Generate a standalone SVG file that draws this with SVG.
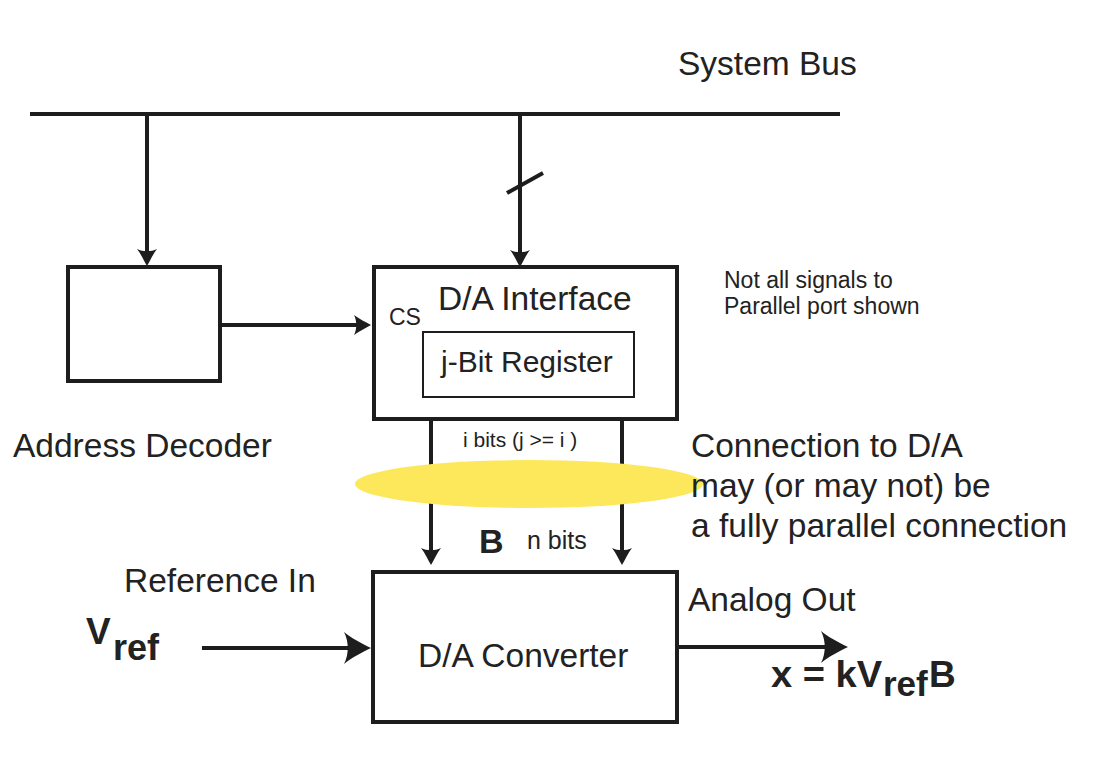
<svg xmlns="http://www.w3.org/2000/svg" width="1114" height="762" viewBox="0 0 1114 762">
<defs>
<style>
text{font-family:"Liberation Sans",Arial,Helvetica,sans-serif;fill:#222;}
.t33{font-size:33.5px;}
.b{font-weight:bold;}
.box{fill:none;stroke:#1d1d1d;stroke-width:4;}
.inner{fill:none;stroke:#1d1d1d;stroke-width:2;}
.wire{fill:none;stroke:#1d1d1d;stroke-width:4;}
</style>
<marker id="big" viewBox="-20 -20 35 40" markerWidth="35" markerHeight="40" refX="0" refY="0" markerUnits="userSpaceOnUse" orient="auto" overflow="visible">
<path d="M10,0 C2,-4 -10,-10 -17,-16 C-12,-6 -12,6 -17,16 C-10,10 2,4 10,0 Z" fill="#1d1d1d"/>
</marker>
<marker id="small" viewBox="-12 -12 22 24" markerWidth="22" markerHeight="24" refX="0" refY="0" markerUnits="userSpaceOnUse" orient="auto" overflow="visible">
<path d="M8,0 C3,-3 -4,-6 -9,-10 C-6,-4 -6,4 -9,10 C-4,6 3,3 8,0 Z" fill="#1d1d1d"/>
</marker>
</defs>
<rect width="1114" height="762" fill="#ffffff"/>

<g id="connectors">
<line class="wire" x1="30" y1="114" x2="840" y2="114"/>
<line class="wire" x1="147" y1="114" x2="147" y2="258" marker-end="url(#small)"/>
<line class="wire" x1="520" y1="114" x2="520" y2="259" marker-end="url(#small)"/>
<line class="wire" x1="507" y1="193" x2="543" y2="173"/>
<line class="wire" x1="220" y1="325" x2="363" y2="325" marker-end="url(#small)"/>
<line class="wire" x1="431" y1="419" x2="431" y2="557" marker-end="url(#small)"/>
<line class="wire" x1="622" y1="419" x2="622" y2="557" marker-end="url(#small)"/>
<line class="wire" x1="202" y1="648" x2="361" y2="648" marker-end="url(#big)"/>
<line class="wire" x1="677" y1="647" x2="838" y2="647" marker-end="url(#big)"/>
</g>

<g id="system-bus">
<text class="t33" x="678" y="75">System Bus</text>
</g>

<g id="address-decoder">
<rect class="box" x="68" y="267" width="152" height="114"/>
<text class="t33" x="13" y="457">Address Decoder</text>
</g>

<g id="da-interface">
<rect class="box" x="374" y="267" width="303" height="152"/>
<text class="t33" x="438" y="310">D/A Interface</text>
<text x="389" y="325" font-size="23">CS</text>
</g>

<g id="register">
<rect class="inner" x="423" y="332" width="211" height="65"/>
<text x="441" y="372" font-size="30">j-Bit Register</text>
</g>

<g id="parallel-connection">
<ellipse cx="529" cy="484" rx="174" ry="24" fill="#fce85a"/>
<text x="463" y="447" font-size="21">i bits (j &gt;= i )</text>
<text class="b" x="479" y="553" font-size="34">B</text>
<text x="527" y="549" font-size="25">n bits</text>
</g>

<g id="connection-note">
<text class="t33" x="691" y="457">Connection to D/A</text>
<text class="t33" x="691" y="497">may (or may not) be</text>
<text class="t33" x="691" y="537">a fully parallel connection</text>
</g>

<g id="signals-note">
<text x="724" y="288" font-size="23">Not all signals to</text>
<text x="724" y="314" font-size="23">Parallel port shown</text>
</g>

<g id="da-converter">
<rect class="box" x="373" y="572" width="304" height="150"/>
<text class="t33" x="418" y="667">D/A Converter</text>
</g>

<g id="reference-in">
<text class="t33" x="124" y="592">Reference In</text>
<text class="b" x="86" y="644" font-size="37">V</text>
<text class="b" x="113" y="660" font-size="36">ref</text>
</g>

<g id="analog-out">
<text class="t33" x="688" y="611">Analog Out</text>
<text class="b" x="771" y="687" font-size="36" textLength="111" lengthAdjust="spacingAndGlyphs">x = kV</text>
<text class="b" x="883" y="696" font-size="35">ref</text>
<text class="b" x="929" y="687" font-size="37">B</text>
</g>
</svg>
